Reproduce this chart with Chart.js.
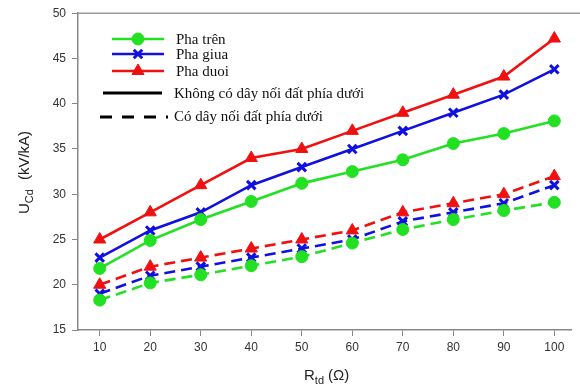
<!DOCTYPE html>
<html>
<head>
<meta charset="utf-8">
<script src="https://cdn.jsdelivr.net/npm/chart.js@4.4.1/dist/chart.umd.min.js"></script>
<style>
  html, body { margin: 0; padding: 0; background: #fff; }
  #wrap { width: 580px; height: 389px; position: relative; }
</style>
</head>
<body>
<div id="wrap"><canvas id="c"></canvas></div>
<script>
// x values (R_td, ohm)
const rtd = [10, 20, 30, 40, 50, 60, 70, 80, 90, 100];
const yTicks = [15, 20, 25, 30, 35, 40, 45, 50];

// without lower ground wire (solid)
const phaTrenSolid = [21.8, 24.9, 27.2, 29.2, 31.2, 32.5, 33.8, 35.6, 36.7, 38.1];
const phaGiuaSolid = [23.0, 26.0, 28.0, 31.0, 33.0, 35.0, 37.0, 39.0, 41.0, 43.8];
const phaDuoiSolid = [25.0, 28.0, 31.0, 34.0, 35.0, 37.0, 39.0, 41.0, 43.0, 47.2];

// with lower ground wire (dashed)
const phaTrenDash = [18.3, 20.2, 21.1, 22.1, 23.1, 24.6, 26.1, 27.2, 28.2, 29.1];
const phaGiuaDash = [19.0, 21.0, 22.0, 23.0, 24.0, 25.0, 27.0, 28.0, 29.0, 31.0];
const phaDuoiDash = [20.0, 22.0, 23.0, 24.0, 25.0, 26.0, 28.0, 29.0, 30.0, 32.0];

const legendPhases = ['Pha trên', 'Pha giua', 'Pha duoi'];
const legendWires = ['Không có dây nối đất phía dưới', 'Có dây nối đất phía dưới'];

const GREEN = '#22e022', BLUE = '#1010e0', RED = '#f01010';

function pts(arr) { return arr.map((v, i) => ({ x: rtd[i], y: v })); }

function markerRadius(style) {
    return style === 'crossRot' ? 6 : (style === 'triangle' ? 7 : 6);
}

function series(data, color, style, dashed) {
    return {
        data: pts(data),
        borderColor: color,
        backgroundColor: color,
        borderWidth: 2.6,
        borderDash: dashed ? [11, 6] : [],
        pointStyle: style,
        pointRadius: markerRadius(style),
        pointBorderWidth: style === 'crossRot' ? 3 : 1,
        pointBorderColor: color,
        tension: 0
    };
}

// draws the legend box, axis titles with subscripts and the top frame line
const decor = {
    id: 'decor',
    afterDraw(chart) {
        const ctx = chart.ctx;
        const a = chart.chartArea;
        ctx.save();
        // top frame
        ctx.strokeStyle = '#999';
        ctx.lineWidth = 1.5;
        ctx.beginPath();
        ctx.moveTo(a.left, a.top);
        ctx.lineTo(580, a.top);
        ctx.stroke();

        // legend
        ctx.font = '15px "Liberation Serif", serif';
        ctx.textBaseline = 'middle';
        const colors = [GREEN, BLUE, RED];
        const styles = ['circle', 'crossRot', 'triangle'];
        const ys = [39, 54, 71];
        for (let i = 0; i < 3; i++) {
            ctx.strokeStyle = colors[i];
            ctx.fillStyle = colors[i];
            ctx.lineWidth = 2.6;
            ctx.setLineDash([]);
            ctx.beginPath();
            ctx.moveTo(112, ys[i]);
            ctx.lineTo(164, ys[i]);
            ctx.stroke();
            ctx.lineWidth = styles[i] === 'crossRot' ? 3 : 1;
            Chart.helpers.drawPoint(ctx, {
                pointStyle: styles[i],
                radius: markerRadius(styles[i]),
                rotation: 0,
                borderWidth: ctx.lineWidth
            }, 138, ys[i]);
            ctx.fillStyle = '#111';
            ctx.fillText(legendPhases[i], 176, ys[i] + 1);
        }
        ctx.strokeStyle = '#000';
        ctx.fillStyle = '#111';
        ctx.lineWidth = 3;
        ctx.beginPath();
        ctx.moveTo(103, 93);
        ctx.lineTo(162, 93);
        ctx.stroke();
        ctx.fillText(legendWires[0], 174, 94);
        ctx.setLineDash([12, 10]);
        ctx.beginPath();
        ctx.moveTo(100, 117);
        ctx.lineTo(168, 117);
        ctx.stroke();
        ctx.setLineDash([]);
        ctx.fillText(legendWires[1], 174, 117);

        // x title: R_td (Ω)
        ctx.fillStyle = '#222';
        ctx.textBaseline = 'alphabetic';
        ctx.textAlign = 'left';
        let x = 304, y = 380;
        ctx.font = '15px "Liberation Sans", Arial, sans-serif';
        ctx.fillText('R', x, y); x += ctx.measureText('R').width;
        ctx.font = '11px "Liberation Sans", Arial, sans-serif';
        ctx.fillText('td', x, y + 4); x += ctx.measureText('td').width + 4;
        ctx.font = '15px "Liberation Sans", Arial, sans-serif';
        ctx.fillText('(Ω)', x, y);

        // y title: U_Cd (kV/kA)
        ctx.translate(29, 214);
        ctx.rotate(-Math.PI / 2);
        x = 0; y = 0;
        ctx.font = '15px "Liberation Sans", Arial, sans-serif';
        ctx.fillText('U', x, y); x += ctx.measureText('U').width;
        ctx.font = '11px "Liberation Sans", Arial, sans-serif';
        ctx.fillText('Cd', x, y + 4); x += ctx.measureText('Cd').width + 9;
        ctx.font = '15px "Liberation Sans", Arial, sans-serif';
        ctx.fillText('(kV/kA)', x, y);
        ctx.restore();
    }
};

new Chart(document.getElementById('c'), {
    type: 'line',
    data: {
        datasets: [
            series(phaTrenSolid, GREEN, 'circle', false),
            series(phaGiuaSolid, BLUE, 'crossRot', false),
            series(phaDuoiSolid, RED, 'triangle', false),
            series(phaTrenDash, GREEN, 'circle', true),
            series(phaGiuaDash, BLUE, 'crossRot', true),
            series(phaDuoiDash, RED, 'triangle', true)
        ]
    },
    options: {
        responsive: true,
        maintainAspectRatio: false,
        animation: false,
        layout: { padding: { top: 13, right: 3, left: 0, bottom: 0 } },
        plugins: { legend: { display: false }, tooltip: { enabled: false } },
        scales: {
            x: {
                type: 'linear',
                min: 5.7, max: 103.3,
                afterBuildTicks(s) { s.ticks = rtd.map(v => ({ value: v })); },
                afterFit(s) { s.height = 59; },
                grid: { drawOnChartArea: false, drawTicks: true, tickLength: 6, color: '#888' },
                border: { color: '#888', width: 1.5 },
                ticks: { color: '#333', font: { size: 12, family: '"Liberation Sans", Arial, sans-serif' }, padding: 4, maxRotation: 0 }
            },
            y: {
                min: 15, max: 50,
                afterBuildTicks(s) { s.ticks = yTicks.map(v => ({ value: v })); },
                afterFit(s) { s.width = 78; },
                grid: { drawOnChartArea: false, drawTicks: true, tickLength: 6, color: '#888' },
                border: { color: '#888', width: 1.5 },
                ticks: { color: '#333', font: { size: 12, family: '"Liberation Sans", Arial, sans-serif' }, padding: 6 }
            }
        }
    },
    plugins: [decor]
});
</script>
</body>
</html>
